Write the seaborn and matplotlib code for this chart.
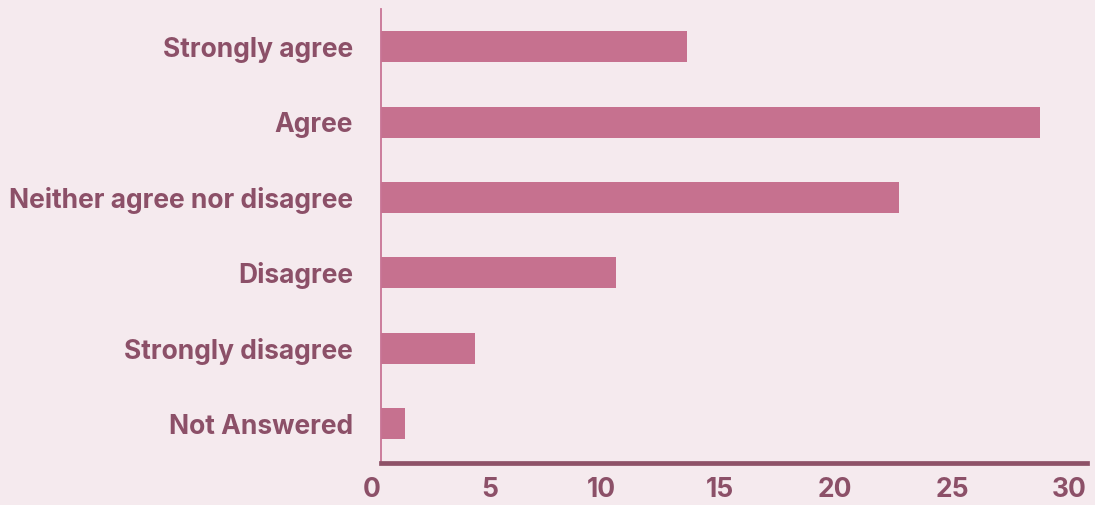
import matplotlib
matplotlib.use("Agg")
import matplotlib.pyplot as plt
import seaborn as sns
import pandas as pd

categories = [
    "Strongly agree",
    "Agree",
    "Neither agree nor disagree",
    "Disagree",
    "Strongly disagree",
    "Not Answered",
]
counts = [13, 28, 22, 10, 4, 1]
x_ticks = [0, 5, 10, 15, 20, 25, 30]

BG = "#f5eaee"
BAR = "#c6718f"
TEXT = "#8c5068"
AXIS_BOTTOM = "#8e5268"
AXIS_LEFT = "#c87495"

sns.set_theme(style="white")
plt.rcParams["font.family"] = ["Inter", "Lato", "DejaVu Sans"]

df = pd.DataFrame({"category": categories, "count": counts})

fig = plt.figure(figsize=(10.95, 5.05), dpi=100, facecolor=BG)
ax = fig.add_axes([381 / 1095, (505 - 463) / 505, (1087 - 381) / 1095, 454 / 505])
ax.set_facecolor(BG)

sns.barplot(data=df, x="count", y="category", orient="h", color=BAR,
            saturation=1, width=0.41, linewidth=0, ax=ax)

ax.set_xlim(0, 30)
ax.set_ylim(5.52, -0.5)
ax.set_xticks(x_ticks)
ax.set_xticklabels([str(t) for t in x_ticks], ha="right")
ax.set_xlabel("")
ax.set_ylabel("")

ax.tick_params(axis="both", length=0, labelsize=19, labelcolor=TEXT)
ax.tick_params(axis="y", pad=20)
ax.tick_params(axis="x", pad=10)
for lbl in ax.get_xticklabels() + ax.get_yticklabels():
    lbl.set_fontweight("bold")

for side in ("top", "right"):
    ax.spines[side].set_visible(False)
ax.spines["bottom"].set_color(AXIS_BOTTOM)
ax.spines["bottom"].set_linewidth(3.4)
ax.spines["left"].set_color(AXIS_LEFT)
ax.spines["left"].set_linewidth(1.3)

fig.savefig("out.png", dpi=100, facecolor=BG)
